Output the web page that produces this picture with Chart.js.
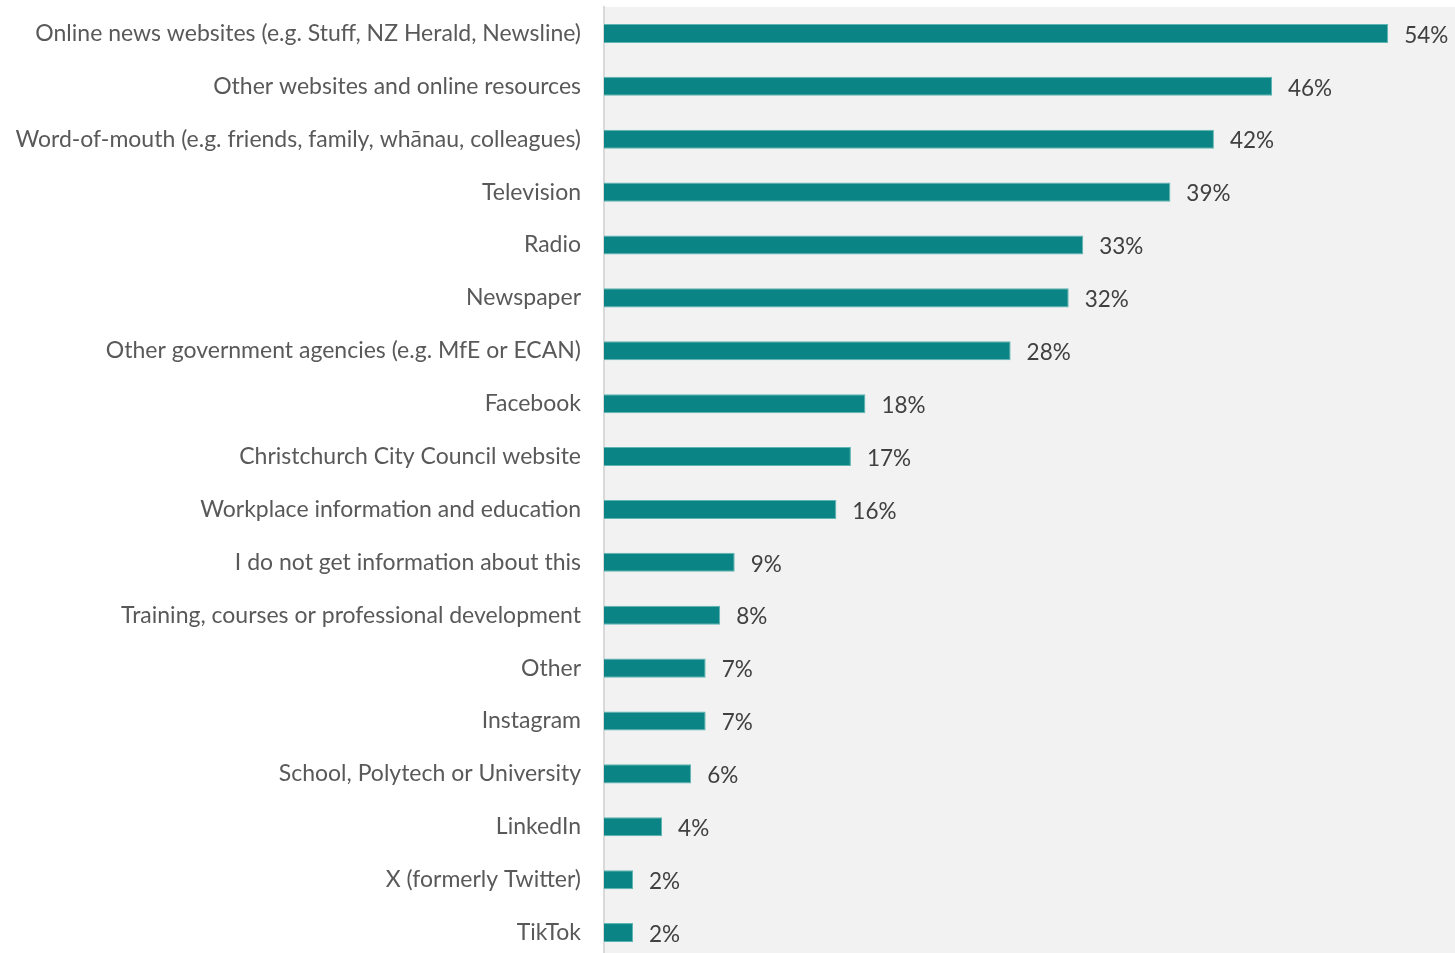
<!DOCTYPE html>
<html>
<head>
<meta charset="utf-8">
<script src="https://cdn.jsdelivr.net/npm/chart.js@4"></script>
<style>
  html, body { margin:0; padding:0; background:#fff; overflow:hidden; }
  #wrap { width:1455px; height:953px; overflow:hidden; }
  #box { width:1455px; height:959px; position:relative; }
</style>
</head>
<body>
<div id="wrap"><div id="box"><canvas id="chart"></canvas></div></div>
<script>
// sources of information
const categories = [
  "Online news websites (e.g. Stuff, NZ Herald, Newsline)",
  "Other websites and online resources",
  "Word-of-mouth (e.g. friends, family, whānau, colleagues)",
  "Television",
  "Radio",
  "Newspaper",
  "Other government agencies (e.g. MfE or ECAN)",
  "Facebook",
  "Christchurch City Council website",
  "Workplace information and education",
  "I do not get information about this",
  "Training, courses or professional development",
  "Other",
  "Instagram",
  "School, Polytech or University",
  "LinkedIn",
  "X (formerly Twitter)",
  "TikTok"
];
const values = [54, 46, 42, 39, 33, 32, 28, 18, 17, 16, 9, 8, 7, 7, 6, 4, 2, 2];

const FONT = "'Source Sans Pro', Lato, sans-serif";

// grey plot background
const plotBg = {
  id: "plotBg",
  beforeDraw(chart){
    const {ctx, chartArea:a} = chart;
    ctx.save();
    ctx.fillStyle = "#f2f2f2";
    ctx.fillRect(a.left, a.top, a.right - a.left, a.bottom - a.top);
    ctx.restore();
  }
};

// percent labels after each bar
const valueLabels = {
  id: "valueLabels",
  afterDatasetsDraw(chart){
    const ctx = chart.ctx;
    const meta = chart.getDatasetMeta(0);
    ctx.save();
    ctx.font = "22.5px " + FONT;
    ctx.fillStyle = "#404040";
    ctx.textBaseline = "middle";
    ctx.textAlign = "left";
    meta.data.forEach((bar, i)=>{
      ctx.fillText(values[i] + "%", bar.x + 16, bar.y + 2);
    });
    ctx.restore();
  }
};

new Chart(document.getElementById("chart"), {
  type: "bar",
  data: {
    labels: categories,
    datasets: [{
      data: values,
      backgroundColor: "#0a8484",
      borderColor: "#5fb5b2",
      borderWidth: 1,
      categoryPercentage: 1,
      barPercentage: 0.36
    }]
  },
  options: {
    indexAxis: "y",
    responsive: true,
    maintainAspectRatio: false,
    animation: false,
    layout: { padding: { top: 7, right: 0, bottom: 0, left: 0 } },
    plugins: { legend: { display:false }, tooltip: { enabled:false } },
    scales: {
      x: { display:false, min:0, max:58.6 },
      y: {
        afterFit(scale){
          scale.width = 604;
          scale.paddingTop = 0;
          scale.paddingBottom = 0;
        },
        grid: { display:false, drawTicks:false },
        border: { display:true, color:"#d9d9d9", width:2 },
        ticks: {
          padding: 23,
          color: "#595959",
          font: { family: FONT, size: 23 }
        }
      }
    }
  },
  plugins: [plotBg, valueLabels]
});
</script>
</body>
</html>
